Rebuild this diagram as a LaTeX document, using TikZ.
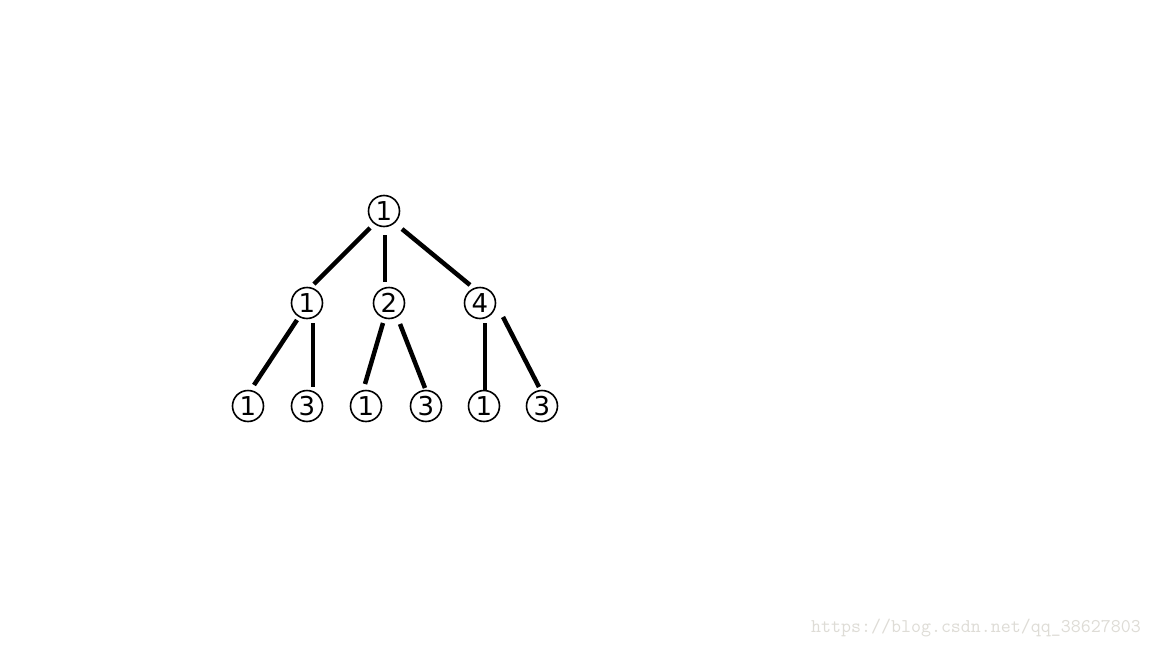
\documentclass[tikz,border=0pt]{standalone}
\usepackage{fontspec}
\newfontfamily\digitfont{DejaVu Sans}
\definecolor{wmark}{RGB}{222,220,214}
\begin{document}
\begin{tikzpicture}[x=1pt,y=-1pt,
  tnode/.style={circle,draw=black,line width=1.6pt,minimum size=31pt,inner sep=0pt,
    font=\digitfont\fontsize{26}{26}\selectfont},
  edge/.style={line width=4.5pt,black}]
\useasboundingbox[fill=white] (0,0) rectangle (1152,648);
\node[tnode] (r) at (384,211) {1};
\node[tnode] (m1) at (307,303) {1};
\node[tnode] (m2) at (389,303) {2};
\node[tnode] (m4) at (480,303) {4};
\node[tnode] (b1) at (248,406) {1};
\node[tnode] (b2) at (307,406) {3};
\node[tnode] (b3) at (366,406) {1};
\node[tnode] (b4) at (426,406) {3};
\node[tnode] (b5) at (484,406) {1};
\node[tnode] (b6) at (542,406) {3};
\draw[edge] ([shift={(-14,17)}]r.center) -- ([shift={(7,-19)}]m1.center);
\draw[edge] ([shift={(1,24)}]r.center) -- ([shift={(-4,-21)}]m2.center);
\draw[edge] ([shift={(18,18)}]r.center) -- ([shift={(-10,-18)}]m4.center);
\draw[edge] ([shift={(-10,17)}]m1.center) -- ([shift={(6,-21)}]b1.center);
\draw[edge] ([shift={(6,20)}]m1.center) -- ([shift={(6,-19)}]b2.center);
\draw[edge] ([shift={(-6,20)}]m2.center) -- ([shift={(-1,-22)}]b3.center);
\draw[edge] ([shift={(11,21)}]m2.center) -- ([shift={(-1,-18)}]b4.center);
\draw[edge] ([shift={(5,20)}]m4.center) -- ([shift={(1,-16)}]b5.center);
\draw[edge] ([shift={(23,14)}]m4.center) -- ([shift={(-3,-19)}]b6.center);
\node[text=wmark,font=\ttfamily\fontsize{19.4}{19.4}\selectfont,anchor=east,inner sep=0pt] (wm) at (1141,628) {https://blog.csdn.net/qq\_38627803};
\end{tikzpicture}
\end{document}
